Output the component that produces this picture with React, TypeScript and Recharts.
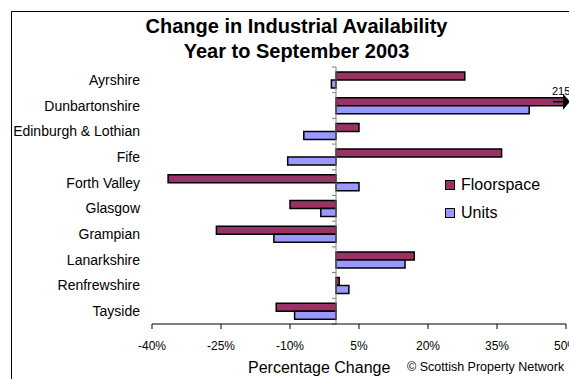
import React from 'react';
import { BarChart, Bar, XAxis, YAxis, ReferenceLine, LabelList } from 'recharts';

const categories = ['Ayrshire', 'Dunbartonshire', 'Edinburgh & Lothian', 'Fife', 'Forth Valley', 'Glasgow', 'Grampian', 'Lanarkshire', 'Renfrewshire', 'Tayside'];
const floorspace = [28, 215, 5, 36, -36.5, -10, -26, 17, 0.7, -13];
const units = [-1, 42, -7, -10.5, 5, -3.3, -13.5, 15, 2.8, -9];
const xTicks = [-40, -25, -10, 5, 20, 35, 50];
const seriesNames = ['Floorspace', 'Units'];
const colors = ['#993366', '#9999FF'];

const data = categories.map((name, i) => ({ name, Floorspace: floorspace[i], Units: units[i] }));

const FONT = '"Liberation Sans", Arial, sans-serif';
const W = 569;
const H = 379;
const X_MAX = 50;

const ZeroLine = (p: any) => {
  const { x1, y1, y2 } = p;
  const n = categories.length;
  const ticks = [];
  for (let i = 0; i <= n; i++) {
    const y = y1 + ((y2 - y1) * i) / n;
    ticks.push(<line key={i} x1={x1 - 4} x2={x1} y1={y} y2={y} stroke="#808080" strokeWidth={1} />);
  }
  return (
    <g>
      <line x1={x1} x2={x1} y1={y1} y2={y2} stroke="#808080" strokeWidth={1} />
      {ticks}
    </g>
  );
};

const Overflow = (p: any) => {
  const { y, height, value } = p;
  if (value <= X_MAX) return null;
  const cy = y + height / 2;
  return (
    <g>
      <text x={552} y={y - 3} fontSize={11} fontFamily={FONT} fill="#000">{value}</text>
      <line x1={553} x2={565} y1={cy} y2={cy} stroke="#000" strokeWidth={1.5} />
      <path d={`M ${563} ${cy - 8} L ${570} ${cy} L ${563} ${cy + 8} Z`} fill="#000" />
    </g>
  );
};

export default function App() {
  return (
    <div style={{ position: 'absolute', left: 0, top: 0, width: W, height: H, overflow: 'hidden', background: '#fff', fontFamily: FONT }}>
      <div style={{ position: 'absolute', left: 11, top: 11, width: 700, height: 500, border: '1.5px solid #000', boxSizing: 'border-box' }} />
      <div style={{ position: 'absolute', left: 0, top: 0, width: W }}>
        <BarChart
          width={W}
          height={H}
          data={data}
          layout="vertical"
          margin={{ top: 67, right: 3, bottom: 0, left: 0 }}
          barGap={0}
          barSize={8}
        >
          <XAxis
            type="number"
            domain={[-40, X_MAX]}
            allowDataOverflow
            ticks={xTicks}
            interval={0}
            tickFormatter={(v: number) => `${v}%`}
            axisLine={{ stroke: '#000' }}
            tickLine={{ stroke: '#000' }}
            tickSize={5}
            tickMargin={12}
            height={55}
            tick={{ fontSize: 12, fill: '#000', fontFamily: FONT }}
          />
          <YAxis
            type="category"
            dataKey="name"
            width={152}
            axisLine={false}
            tickLine={false}
            tickSize={0}
            tickMargin={12}
            interval={0}
            tick={{ fontSize: 14, fill: '#000', fontFamily: FONT }}
          />
          <Bar dataKey="Floorspace" fill={colors[0]} stroke="#000" strokeWidth={1.5} isAnimationActive={false}>
            <LabelList dataKey="Floorspace" content={Overflow} />
          </Bar>
          <Bar dataKey="Units" fill={colors[1]} stroke="#000" strokeWidth={1.5} isAnimationActive={false} />
          <ReferenceLine x={0} shape={ZeroLine} ifOverflow="visible" />
        </BarChart>
      </div>
      <div style={{ position: 'absolute', left: 12, top: 14, width: W, textAlign: 'center', fontWeight: 'bold', fontSize: 20, lineHeight: '25px', color: '#000' }}>
        <div>Change in Industrial Availability</div>
        <div>Year to September 2003</div>
      </div>
      {seriesNames.map((s, i) => (
        <div key={s} style={{ position: 'absolute', left: 445, top: 176 + i * 28, height: 18, display: 'flex', alignItems: 'center', whiteSpace: 'nowrap' }}>
          <span style={{ display: 'inline-block', width: 8, height: 8, background: colors[i], border: '1px solid #000', marginRight: 6 }} />
          <span style={{ fontSize: 16, color: '#000' }}>{s}</span>
        </div>
      ))}
      <div style={{ position: 'absolute', left: 248, top: 359, fontSize: 16, lineHeight: '18px', whiteSpace: 'nowrap', color: '#000' }}>Percentage Change</div>
      <div style={{ position: 'absolute', left: 407, top: 360, fontSize: 12.5, lineHeight: '14px', whiteSpace: 'nowrap', color: '#000' }}>© Scottish Property Network</div>
    </div>
  );
}
